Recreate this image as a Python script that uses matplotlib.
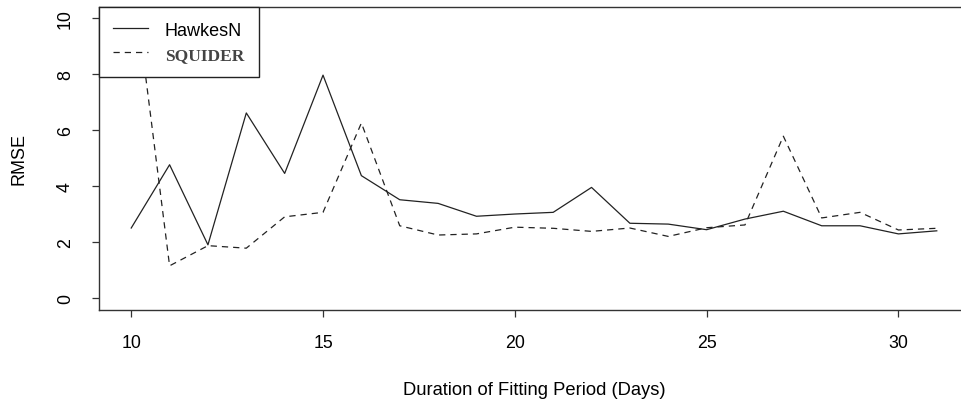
import numpy as np
import matplotlib
matplotlib.use('Agg')
import matplotlib.pyplot as plt

# RMSE of the two models against length of the fitting window
days = list(range(10, 32))
hawkesn = [2.51, 4.77, 1.91, 6.62, 4.46, 7.97, 4.38, 3.52, 3.39, 2.93, 3.01,
           3.07, 3.96, 2.68, 2.65, 2.45, 2.83, 3.11, 2.59, 2.59, 2.30, 2.41]
squider = [12.0, 1.16, 1.88, 1.79, 2.91, 3.07, 6.26, 2.59, 2.26, 2.30, 2.54,
           2.50, 2.39, 2.51, 2.21, 2.52, 2.62, 5.79, 2.87, 3.07, 2.44, 2.50]

x_ticks = [10, 15, 20, 25, 30]
y_ticks = [0, 2, 4, 6, 8, 10]

plt.rcParams['font.family'] = ['Liberation Sans', 'DejaVu Sans']

W, H = 961, 406
fig = plt.figure(figsize=(W / 100, H / 100), dpi=100)
# plot region runs past the right edge, like an R device that got cropped
left, right, top, bottom = 99, 969, 8.1, 310.5
ax = fig.add_axes([left / W, 1 - bottom / H, (right - left) / W, (bottom - top) / H])

ax.plot(days, hawkesn, color='#222222', lw=0.9, label='HawkesN')
ax.plot(days, squider, color='#222222', lw=0.9, linestyle=(0, (5, 4)), label='SQUIDER')

# R style axis padding of 4%
ax.set_xlim(10 - 0.04 * 21, 31 + 0.04 * 21)
ax.set_ylim(-0.4, 10.4)
ax.set_xticks(x_ticks)
ax.set_yticks(y_ticks)
ax.tick_params(direction='out', length=5, width=0.9, color='#333333',
               labelsize=12.8, pad=13)
for lbl in ax.get_yticklabels():
    lbl.set_rotation(90)
    lbl.set_va('center')
for sp in ax.spines.values():
    sp.set_color('#333333')
    sp.set_linewidth(1.0)

ax.set_xlabel('Duration of Fitting Period (Days)', fontsize=13.2)
ax.xaxis.set_label_coords(0.5, -0.235)
ax.set_ylabel('RMSE', fontsize=13)
ax.yaxis.set_label_coords(-0.082, 0.5)

leg = ax.legend(loc='upper left', bbox_to_anchor=(0, 1), borderaxespad=0,
                fancybox=False, framealpha=1, edgecolor='#222222',
                fontsize=13, handlelength=1.9, handletextpad=0.95,
                borderpad=0.8, labelspacing=0.42)
leg.get_frame().set_linewidth(1.0)
txt_h, txt_s = leg.get_texts()
txt_s.set_fontfamily('Liberation Serif')
txt_s.set_fontweight('bold')
txt_s.set_fontsize(12.5)
txt_s.set_color('#444444')

fig.savefig('out.png', dpi=100)
